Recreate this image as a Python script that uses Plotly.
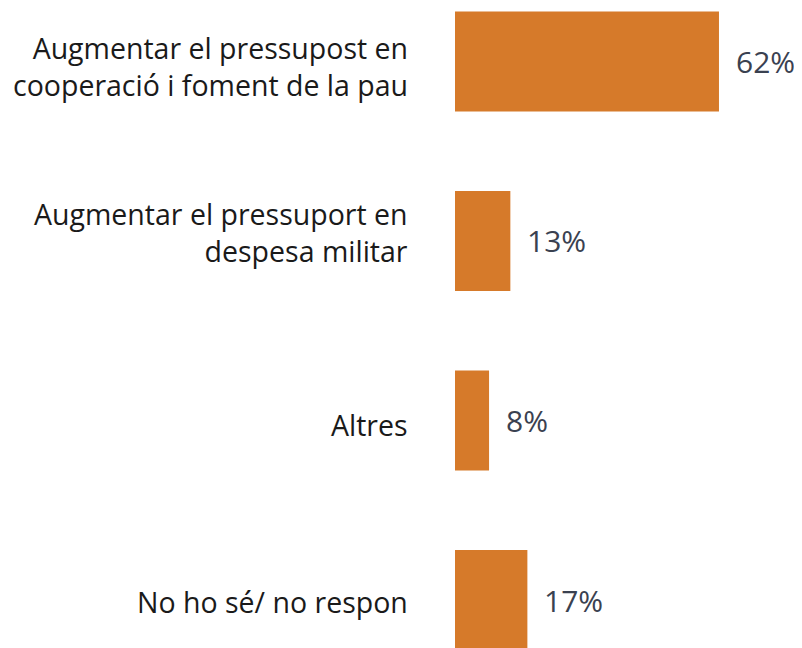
import plotly.graph_objects as go

categories = [
    "Augmentar el pressupost en<br>cooperació i foment de la pau",
    "Augmentar el pressuport en<br>despesa militar",
    "Altres",
    "No ho sé/ no respon",
]
values = [62, 13, 8, 17]
value_labels = ["62%", "13%", "8%", "17%"]

# vertical nudges (px) of the category labels, as in the original layout
label_nudge = {categories[0]: -5, categories[1]: 8, categories[2]: -5, categories[3]: -2}

fig = go.Figure(go.Bar(
    x=values,
    y=categories,
    orientation="h",
    marker=dict(color="#D67A2A", line=dict(width=0)),
    width=0.557,
    hoverinfo="skip",
))

for c, v, t in zip(categories, values, value_labels):
    fig.add_annotation(x=v, y=c, text=t, showarrow=False, xanchor="left",
                       xshift=15, font=dict(family="Open Sans", size=30, color="#3a4150"))
    fig.add_annotation(x=0, xref="paper", y=c, text=c, showarrow=False,
                       xanchor="right", align="right", xshift=-45, yshift=label_nudge[c],
                       font=dict(family="Open Sans", size=28.5, color="#1a1a1a"))

fig.update_layout(
    width=802, height=648,
    margin=dict(l=447, r=8, t=0, b=0),
    paper_bgcolor="white", plot_bgcolor="white",
    showlegend=False,
    xaxis=dict(range=[0, 81.5], visible=False, fixedrange=True),
    yaxis=dict(
        range=[3.312, -0.298],
        showgrid=False, zeroline=False, showline=False,
        ticks="", showticklabels=False,
    ),
)

fig.write_html("out.html")
